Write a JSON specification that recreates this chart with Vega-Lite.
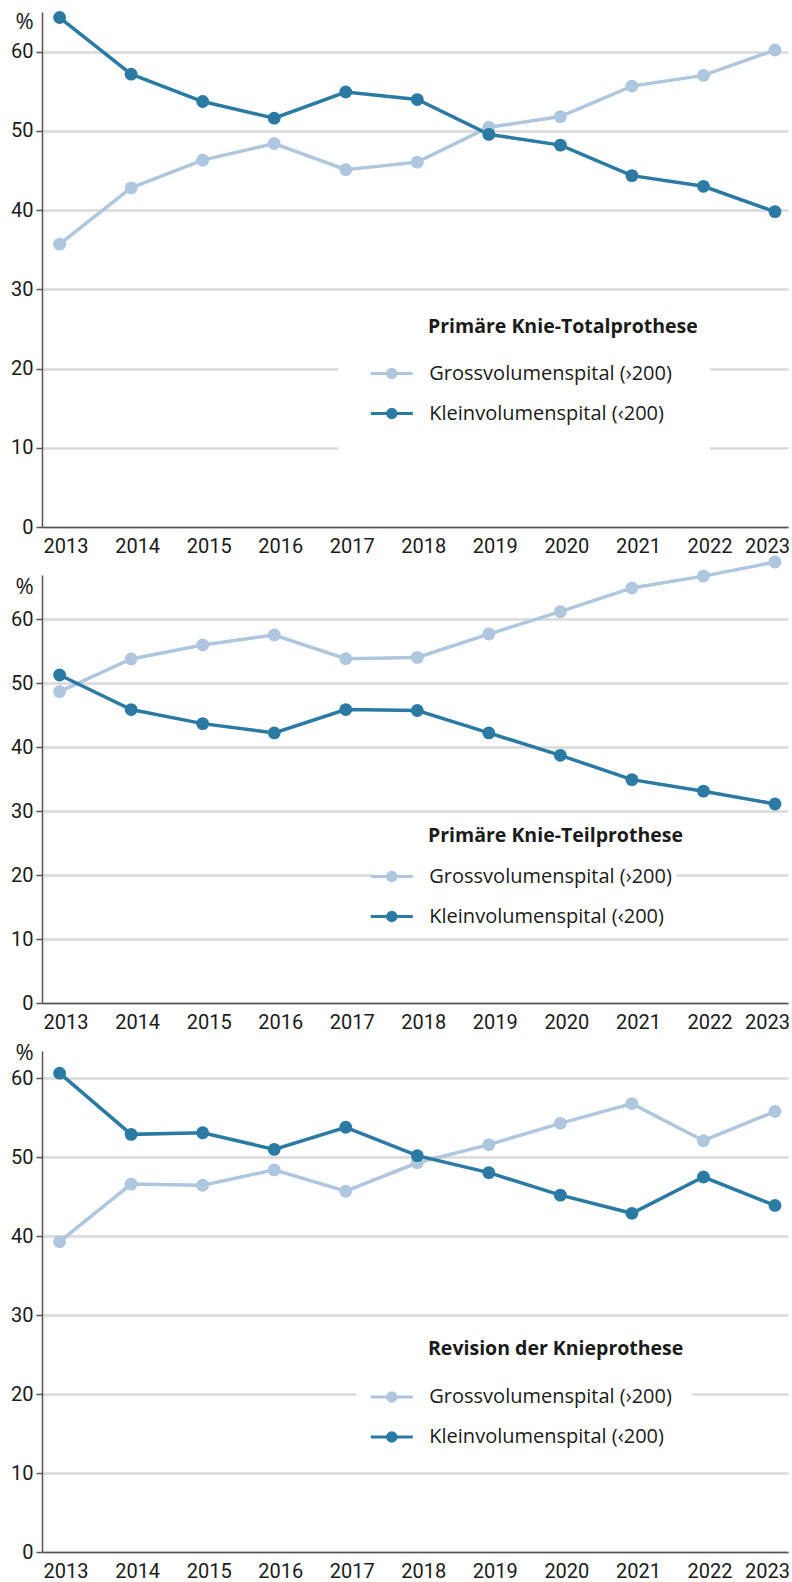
{
  "$schema": "https://vega.github.io/schema/vega-lite/v6.json",
  "padding": {"left": 10, "top": 10, "right": 2, "bottom": 2},
  "background": "white",
  "spacing": 48,
  "bounds": "flush",
  "resolve": {"scale": {"stroke": "independent", "fill": "independent"}, "legend": {"stroke": "independent", "fill": "independent"}},
  "datasets": {
    "d": [
      {"panel": "Primäre Knie-Totalprothese", "series": "Grossvolumenspital (›200)", "year": 2013, "value": 35.7},
      {"panel": "Primäre Knie-Totalprothese", "series": "Grossvolumenspital (›200)", "year": 2014, "value": 42.8},
      {"panel": "Primäre Knie-Totalprothese", "series": "Grossvolumenspital (›200)", "year": 2015, "value": 46.3},
      {"panel": "Primäre Knie-Totalprothese", "series": "Grossvolumenspital (›200)", "year": 2016, "value": 48.4},
      {"panel": "Primäre Knie-Totalprothese", "series": "Grossvolumenspital (›200)", "year": 2017, "value": 45.1},
      {"panel": "Primäre Knie-Totalprothese", "series": "Grossvolumenspital (›200)", "year": 2018, "value": 46.05},
      {"panel": "Primäre Knie-Totalprothese", "series": "Grossvolumenspital (›200)", "year": 2019, "value": 50.45},
      {"panel": "Primäre Knie-Totalprothese", "series": "Grossvolumenspital (›200)", "year": 2020, "value": 51.8},
      {"panel": "Primäre Knie-Totalprothese", "series": "Grossvolumenspital (›200)", "year": 2021, "value": 55.65},
      {"panel": "Primäre Knie-Totalprothese", "series": "Grossvolumenspital (›200)", "year": 2022, "value": 57.0},
      {"panel": "Primäre Knie-Totalprothese", "series": "Grossvolumenspital (›200)", "year": 2023, "value": 60.2},
      {"panel": "Primäre Knie-Totalprothese", "series": "Kleinvolumenspital (‹200)", "year": 2013, "value": 64.3},
      {"panel": "Primäre Knie-Totalprothese", "series": "Kleinvolumenspital (‹200)", "year": 2014, "value": 57.15},
      {"panel": "Primäre Knie-Totalprothese", "series": "Kleinvolumenspital (‹200)", "year": 2015, "value": 53.7},
      {"panel": "Primäre Knie-Totalprothese", "series": "Kleinvolumenspital (‹200)", "year": 2016, "value": 51.6},
      {"panel": "Primäre Knie-Totalprothese", "series": "Kleinvolumenspital (‹200)", "year": 2017, "value": 54.9},
      {"panel": "Primäre Knie-Totalprothese", "series": "Kleinvolumenspital (‹200)", "year": 2018, "value": 53.95},
      {"panel": "Primäre Knie-Totalprothese", "series": "Kleinvolumenspital (‹200)", "year": 2019, "value": 49.55},
      {"panel": "Primäre Knie-Totalprothese", "series": "Kleinvolumenspital (‹200)", "year": 2020, "value": 48.2},
      {"panel": "Primäre Knie-Totalprothese", "series": "Kleinvolumenspital (‹200)", "year": 2021, "value": 44.35},
      {"panel": "Primäre Knie-Totalprothese", "series": "Kleinvolumenspital (‹200)", "year": 2022, "value": 43.0},
      {"panel": "Primäre Knie-Totalprothese", "series": "Kleinvolumenspital (‹200)", "year": 2023, "value": 39.8},
      {"panel": "Primäre Knie-Teilprothese", "series": "Grossvolumenspital (›200)", "year": 2013, "value": 48.65},
      {"panel": "Primäre Knie-Teilprothese", "series": "Grossvolumenspital (›200)", "year": 2014, "value": 53.75},
      {"panel": "Primäre Knie-Teilprothese", "series": "Grossvolumenspital (›200)", "year": 2015, "value": 55.95},
      {"panel": "Primäre Knie-Teilprothese", "series": "Grossvolumenspital (›200)", "year": 2016, "value": 57.5},
      {"panel": "Primäre Knie-Teilprothese", "series": "Grossvolumenspital (›200)", "year": 2017, "value": 53.8},
      {"panel": "Primäre Knie-Teilprothese", "series": "Grossvolumenspital (›200)", "year": 2018, "value": 54.0},
      {"panel": "Primäre Knie-Teilprothese", "series": "Grossvolumenspital (›200)", "year": 2019, "value": 57.65},
      {"panel": "Primäre Knie-Teilprothese", "series": "Grossvolumenspital (›200)", "year": 2020, "value": 61.15},
      {"panel": "Primäre Knie-Teilprothese", "series": "Grossvolumenspital (›200)", "year": 2021, "value": 64.85},
      {"panel": "Primäre Knie-Teilprothese", "series": "Grossvolumenspital (›200)", "year": 2022, "value": 66.7},
      {"panel": "Primäre Knie-Teilprothese", "series": "Grossvolumenspital (›200)", "year": 2023, "value": 68.9},
      {"panel": "Primäre Knie-Teilprothese", "series": "Kleinvolumenspital (‹200)", "year": 2013, "value": 51.25},
      {"panel": "Primäre Knie-Teilprothese", "series": "Kleinvolumenspital (‹200)", "year": 2014, "value": 45.85},
      {"panel": "Primäre Knie-Teilprothese", "series": "Kleinvolumenspital (‹200)", "year": 2015, "value": 43.65},
      {"panel": "Primäre Knie-Teilprothese", "series": "Kleinvolumenspital (‹200)", "year": 2016, "value": 42.2},
      {"panel": "Primäre Knie-Teilprothese", "series": "Kleinvolumenspital (‹200)", "year": 2017, "value": 45.85},
      {"panel": "Primäre Knie-Teilprothese", "series": "Kleinvolumenspital (‹200)", "year": 2018, "value": 45.7},
      {"panel": "Primäre Knie-Teilprothese", "series": "Kleinvolumenspital (‹200)", "year": 2019, "value": 42.2},
      {"panel": "Primäre Knie-Teilprothese", "series": "Kleinvolumenspital (‹200)", "year": 2020, "value": 38.7},
      {"panel": "Primäre Knie-Teilprothese", "series": "Kleinvolumenspital (‹200)", "year": 2021, "value": 34.9},
      {"panel": "Primäre Knie-Teilprothese", "series": "Kleinvolumenspital (‹200)", "year": 2022, "value": 33.1},
      {"panel": "Primäre Knie-Teilprothese", "series": "Kleinvolumenspital (‹200)", "year": 2023, "value": 31.1},
      {"panel": "Revision der Knieprothese", "series": "Grossvolumenspital (›200)", "year": 2013, "value": 39.3},
      {"panel": "Revision der Knieprothese", "series": "Grossvolumenspital (›200)", "year": 2014, "value": 46.6},
      {"panel": "Revision der Knieprothese", "series": "Grossvolumenspital (›200)", "year": 2015, "value": 46.45},
      {"panel": "Revision der Knieprothese", "series": "Grossvolumenspital (›200)", "year": 2016, "value": 48.4},
      {"panel": "Revision der Knieprothese", "series": "Grossvolumenspital (›200)", "year": 2017, "value": 45.7},
      {"panel": "Revision der Knieprothese", "series": "Grossvolumenspital (›200)", "year": 2018, "value": 49.3},
      {"panel": "Revision der Knieprothese", "series": "Grossvolumenspital (›200)", "year": 2019, "value": 51.6},
      {"panel": "Revision der Knieprothese", "series": "Grossvolumenspital (›200)", "year": 2020, "value": 54.3},
      {"panel": "Revision der Knieprothese", "series": "Grossvolumenspital (›200)", "year": 2021, "value": 56.8},
      {"panel": "Revision der Knieprothese", "series": "Grossvolumenspital (›200)", "year": 2022, "value": 52.1},
      {"panel": "Revision der Knieprothese", "series": "Grossvolumenspital (›200)", "year": 2023, "value": 55.8},
      {"panel": "Revision der Knieprothese", "series": "Kleinvolumenspital (‹200)", "year": 2013, "value": 60.65},
      {"panel": "Revision der Knieprothese", "series": "Kleinvolumenspital (‹200)", "year": 2014, "value": 52.9},
      {"panel": "Revision der Knieprothese", "series": "Kleinvolumenspital (‹200)", "year": 2015, "value": 53.1},
      {"panel": "Revision der Knieprothese", "series": "Kleinvolumenspital (‹200)", "year": 2016, "value": 51.0},
      {"panel": "Revision der Knieprothese", "series": "Kleinvolumenspital (‹200)", "year": 2017, "value": 53.8},
      {"panel": "Revision der Knieprothese", "series": "Kleinvolumenspital (‹200)", "year": 2018, "value": 50.2},
      {"panel": "Revision der Knieprothese", "series": "Kleinvolumenspital (‹200)", "year": 2019, "value": 48.05},
      {"panel": "Revision der Knieprothese", "series": "Kleinvolumenspital (‹200)", "year": 2020, "value": 45.2},
      {"panel": "Revision der Knieprothese", "series": "Kleinvolumenspital (‹200)", "year": 2021, "value": 42.9},
      {"panel": "Revision der Knieprothese", "series": "Kleinvolumenspital (‹200)", "year": 2022, "value": 47.5},
      {"panel": "Revision der Knieprothese", "series": "Kleinvolumenspital (‹200)", "year": 2023, "value": 43.9}
    ]
  },
  "config": {
    "view": {"stroke": null},
    "font": "Roboto",
    "axis": {
      "labelFont": "Roboto", "labelFontSize": 20, "labelColor": "#1a1a1a",
      "titleFont": "Open Sans", "titleFontSize": 22, "titleFontWeight": "normal", "titleColor": "#1a1a1a",
      "domainColor": "#555555", "domainWidth": 1.5, "tickColor": "#555555", "tickWidth": 1.5,
      "gridColor": "#d9d9d9", "gridWidth": 2.5
    },
    "legend": {
      "labelFont": "Open Sans", "labelFontSize": 20, "labelColor": "#1a1a1a",
      "symbolType": "M-1.5,0L1.5,0M-0.3,0A0.3,0.3,0,1,0,0.3,0A0.3,0.3,0,1,0,-0.3,0Z",
      "symbolSize": 784, "symbolStrokeWidth": 3, "labelOffset": 22, "rowPadding": 14,
      "fillColor": "white", "labelLimit": 400
    },
    "title": {"font": "Open Sans", "fontSize": 19.5, "fontWeight": "bold", "color": "#1a1a1a", "anchor": "start", "frame": "group", "orient": "top", "offset": 0, "baseline": "middle"}
  },
  "vconcat": [
    {
      "width": 746, "height": 515,
      "title": {"text": "Primäre Knie-Totalprothese", "dx": 386, "dy": 331},
      "data": {"name": "d"},
      "transform": [{"filter": "datum.panel == 'Primäre Knie-Totalprothese'"}],
      "encoding": {
        "x": {"field": "year", "type": "quantitative", "scale": {"domain": [2012.754, 2023.182], "nice": false, "zero": false},
              "axis": {"values": [2013, 2014, 2015, 2016, 2017, 2018, 2019, 2020, 2021, 2022, 2023], "format": "d", "title": null, "ticks": false, "grid": false, "labelPadding": 9, "labelFlush": false, "labelOverlap": false,
                       "labelOffset": {"condition": {"test": "datum.value == 2023", "value": -8}, "value": 6}}},
        "y": {"field": "value", "type": "quantitative", "scale": {"domain": [0, 65], "nice": false},
              "axis": {"values": [0, 10, 20, 30, 40, 50, 60], "grid": true, "tickSize": 6, "labelPadding": 3, "title": "%", "titleFontSize": 22, "titleAngle": 0, "titleX": -27, "titleY": 9, "titleAlign": "left", "titleBaseline": "middle"}}
      },
      "layer": [
        {"mark": {"type": "line", "strokeWidth": 3.5, "clip": false},
         "encoding": {"stroke": {"field": "series", "type": "nominal", "scale": {"domain": ["Grossvolumenspital (›200)", "Kleinvolumenspital (‹200)"], "range": ["#aec6de", "#2a7aa3"]},
                                 "legend": {"title": null, "orient": "none", "legendX": 296.3, "legendY": 308, "padding": 38}}}},
        {"mark": {"type": "circle", "size": 165, "opacity": 1, "clip": false},
         "encoding": {"fill": {"field": "series", "type": "nominal", "scale": {"domain": ["Grossvolumenspital (›200)", "Kleinvolumenspital (‹200)"], "range": ["#aec6de", "#2a7aa3"]},
                               "legend": {"title": null, "orient": "none", "legendX": 296.3, "legendY": 308, "padding": 38}}}}
      ]
    },
    {
      "width": 746, "height": 428,
      "title": {"text": "Primäre Knie-Teilprothese", "dx": 386, "dy": 295.5},
      "data": {"name": "d"},
      "transform": [{"filter": "datum.panel == 'Primäre Knie-Teilprothese'"}],
      "encoding": {
        "x": {"field": "year", "type": "quantitative", "scale": {"domain": [2012.754, 2023.182], "nice": false, "zero": false},
              "axis": {"values": [2013, 2014, 2015, 2016, 2017, 2018, 2019, 2020, 2021, 2022, 2023], "format": "d", "title": null, "ticks": false, "grid": false, "labelPadding": 9, "labelFlush": false, "labelOverlap": false,
                       "labelOffset": {"condition": {"test": "datum.value == 2023", "value": -8}, "value": 6}}},
        "y": {"field": "value", "type": "quantitative", "scale": {"domain": [0, 66.875], "nice": false},
              "axis": {"values": [0, 10, 20, 30, 40, 50, 60], "grid": true, "tickSize": 6, "labelPadding": 3, "title": "%", "titleFontSize": 22, "titleAngle": 0, "titleX": -27, "titleY": 11, "titleAlign": "left", "titleBaseline": "middle"}}
      },
      "layer": [
        {"mark": {"type": "line", "strokeWidth": 3.5, "clip": false},
         "encoding": {"stroke": {"field": "series", "type": "nominal", "scale": {"domain": ["Grossvolumenspital (›200)", "Kleinvolumenspital (‹200)"], "range": ["#aec6de", "#2a7aa3"]},
                                 "legend": {"title": null, "orient": "none", "legendX": 330.3, "legendY": 282, "padding": 4}}}},
        {"mark": {"type": "circle", "size": 165, "opacity": 1, "clip": false},
         "encoding": {"fill": {"field": "series", "type": "nominal", "scale": {"domain": ["Grossvolumenspital (›200)", "Kleinvolumenspital (‹200)"], "range": ["#aec6de", "#2a7aa3"]},
                               "legend": {"title": null, "orient": "none", "legendX": 330.3, "legendY": 282, "padding": 4}}}}
      ]
    },
    {
      "width": 746, "height": 501,
      "title": {"text": "Revision der Knieprothese", "dx": 386, "dy": 322},
      "data": {"name": "d"},
      "transform": [{"filter": "datum.panel == 'Revision der Knieprothese'"}],
      "encoding": {
        "x": {"field": "year", "type": "quantitative", "scale": {"domain": [2012.754, 2023.182], "nice": false, "zero": false},
              "axis": {"values": [2013, 2014, 2015, 2016, 2017, 2018, 2019, 2020, 2021, 2022, 2023], "format": "d", "title": null, "ticks": false, "grid": false, "labelPadding": 9, "labelFlush": false, "labelOverlap": false,
                       "labelOffset": {"condition": {"test": "datum.value == 2023", "value": -8}, "value": 6}}},
        "y": {"field": "value", "type": "quantitative", "scale": {"domain": [0, 63.46], "nice": false},
              "axis": {"values": [0, 10, 20, 30, 40, 50, 60], "grid": true, "tickSize": 6, "labelPadding": 3, "title": "%", "titleFontSize": 22, "titleAngle": 0, "titleX": -27, "titleY": 1, "titleAlign": "left", "titleBaseline": "middle"}}
      },
      "layer": [
        {"mark": {"type": "line", "strokeWidth": 3.5, "clip": false},
         "encoding": {"stroke": {"field": "series", "type": "nominal", "scale": {"domain": ["Grossvolumenspital (›200)", "Kleinvolumenspital (‹200)"], "range": ["#aec6de", "#2a7aa3"]},
                                 "legend": {"title": null, "orient": "none", "legendX": 314.3, "legendY": 310.5, "padding": 20}}}},
        {"mark": {"type": "circle", "size": 165, "opacity": 1, "clip": false},
         "encoding": {"fill": {"field": "series", "type": "nominal", "scale": {"domain": ["Grossvolumenspital (›200)", "Kleinvolumenspital (‹200)"], "range": ["#aec6de", "#2a7aa3"]},
                               "legend": {"title": null, "orient": "none", "legendX": 314.3, "legendY": 310.5, "padding": 20}}}}
      ]
    }
  ]
}
